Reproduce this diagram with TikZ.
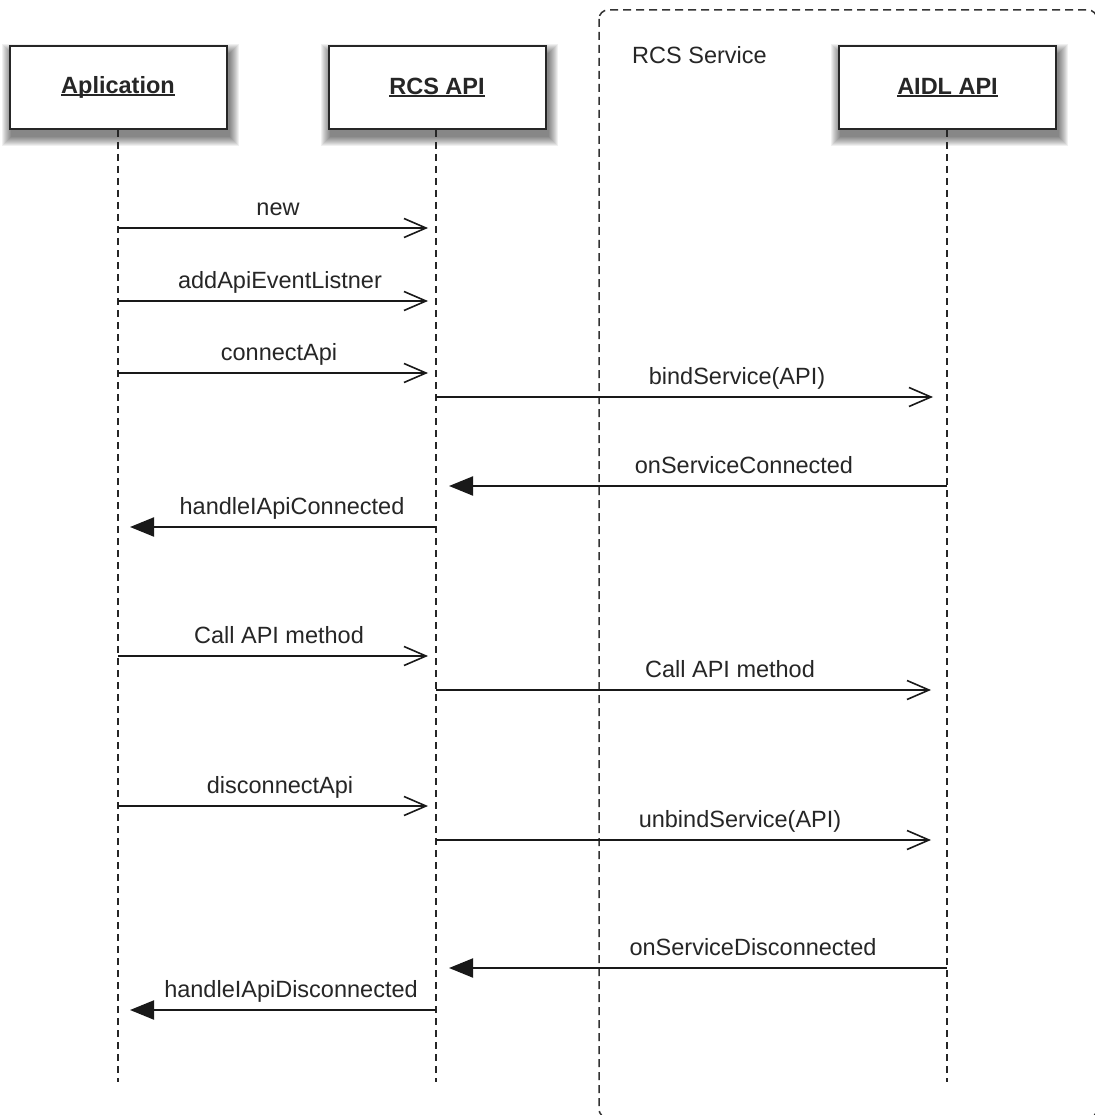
\documentclass[tikz,border=0pt]{standalone}
\usepackage{fontspec}
\setmainfont{Liberation Sans}
\usetikzlibrary{arrows.meta,backgrounds,calc}

\newcommand\ulbox[1]{\setbox0\hbox{#1}\rlap{\rule[-2.4pt]{\wd0}{1.6pt}}\box0}

\begin{document}
\begin{tikzpicture}[x=1pt,y=-1pt,
  font=\fontsize{23.5pt}{28pt}\selectfont,
  actor/.style={draw=black!85,line width=2pt,fill=white,minimum width=217pt,minimum height=83pt,inner sep=0pt,
    font=\fontsize{23.5pt}{28pt}\selectfont\bfseries,text=black!85},
  life/.style={draw=black!85,line width=1.6pt,dash pattern=on 7pt off 5pt},
  group/.style={draw=black!80,line width=1.5pt,dash pattern=on 8pt off 5pt,rounded corners=9pt},
  msg/.style={draw=black!90,line width=2pt,-{Straight Barb[length=22pt,width=19pt,line width=1.6pt]}},
  ret/.style={draw=black!90,line width=2pt,-{Triangle[length=24pt,width=19pt]}},
  lbl/.style={anchor=base,inner sep=0pt,text=black!85}]

\useasboundingbox (0,0) rectangle (1094,1115);

% RCS Service container
\draw[group] (599,10) rectangle (1097,1118);
\node[anchor=base west,inner sep=0pt,text=black!85] (svc) at (632,64) {RCS Service};

% actors
\node[actor] (app)  at (118,87.5) {\ulbox{Aplication}};
\node[actor] (rcs)  at (437,87.5) {\ulbox{RCS API}};
\node[actor] (aidl) at (947.5,87.5) {\ulbox{AIDL API}};

\begin{scope}[on background layer]
  \fill[white] (0,0) rectangle (1094,1115);
  \foreach \n in {app,rcs,aidl}{
    \foreach \r in {0,...,9}{
      \fill[black,opacity=0.06]
        ([shift={(2-\r,8-\r)}]\n.north west) rectangle ([shift={(2+\r,7+\r)}]\n.south east);
    }
  }
\end{scope}

% lifelines
\coordinate (appEnd)  at (118,1082);
\coordinate (rcsEnd)  at (436,1082);
\coordinate (aidlEnd) at (947,1082);
\draw[life] (app.south |- app.south) -- (appEnd);
\draw[life] (rcsEnd |- rcs.south) -- (rcsEnd);
\draw[life] (aidlEnd |- aidl.south) -- (aidlEnd);

% message points
\foreach \nm/\y in {m1/228,m2/301,m3/373,m4/397,m5/486,m6/527,m7/656,m8/690,m9/806,m10/840,m11/968,m12/1010}{
  \coordinate (\nm a) at (118,\y);
  \coordinate (\nm r) at (436,\y);
  \coordinate (\nm d) at (947,\y);
}

% Application -> RCS API
\draw[msg,shorten >=8pt] (m1a) -- (m1r);
\node[lbl] (l1) at (278,215) {new};
\draw[msg,shorten >=8pt] (m2a) -- (m2r);
\node[lbl] (l2) at (280,288) {addApiEventListner};
\draw[msg,shorten >=8pt] (m3a) -- (m3r);
\node[lbl] (l3) at (279,360) {connectApi};

% RCS API -> AIDL API
\draw[msg,shorten >=14pt] (m4r) -- (m4d);
\node[lbl] (l4) at (737,384) {bindService(API)};

% AIDL -> RCS
\draw[ret,shorten >=13pt] (m5d) -- (m5r);
\node[lbl] (l5) at (744,473) {onServiceConnected};

% RCS -> App
\draw[ret,shorten >=12pt] (m6r) -- (m6a);
\node[lbl] (l6) at (292,514) {handleIApiConnected};

\draw[msg,shorten >=8pt] (m7a) -- (m7r);
\node[lbl] (l7) at (279,643) {Call API method};
\draw[msg,shorten >=16pt] (m8r) -- (m8d);
\node[lbl] (l8) at (730,677) {Call API method};

\draw[msg,shorten >=8pt] (m9a) -- (m9r);
\node[lbl] (l9) at (280,793) {disconnectApi};
\draw[msg,shorten >=16pt] (m10r) -- (m10d);
\node[lbl] (l10) at (740,827) {unbindService(API)};

\draw[ret,shorten >=13pt] (m11d) -- (m11r);
\node[lbl] (l11) at (753,955) {onServiceDisconnected};
\draw[ret,shorten >=12pt] (m12r) -- (m12a);
\node[lbl] (l12) at (291,997) {handleIApiDisconnected};

\end{tikzpicture}
\end{document}
